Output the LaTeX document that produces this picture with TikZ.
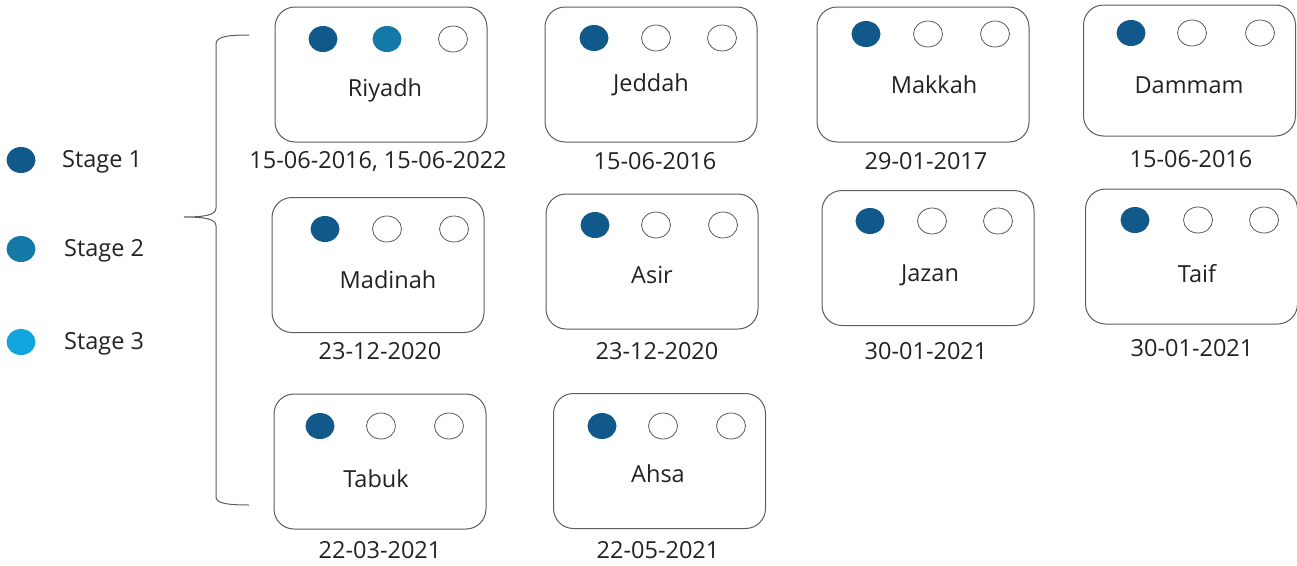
\documentclass[tikz,border=0pt]{standalone}
\usepackage{fontspec}
\setmainfont{Open Sans}
\usetikzlibrary{shapes.geometric}

\definecolor{stageone}{HTML}{11598A}
\definecolor{stagetwo}{HTML}{1479A6}
\definecolor{stagethree}{HTML}{12A5DD}
\definecolor{edgegray}{HTML}{5C5C5C}
\definecolor{inkgray}{HTML}{222222}

\begin{document}
\begin{tikzpicture}[x=1pt, y=-1pt,
    city/.style={draw=edgegray, line width=1pt, rounded corners=20pt, minimum width=212pt, minimum height=135pt, inner sep=0pt},
    dot/.style={ellipse, minimum width=29pt, minimum height=26pt, inner sep=0pt},
    one/.style={dot, fill=stageone},
    two/.style={dot, fill=stagetwo},
    three/.style={dot, fill=stagethree},
    open/.style={dot, draw=edgegray, line width=0.8pt, fill=white},
    txt/.style={font=\fontsize{23.5}{28}\selectfont, text=inkgray, inner sep=0pt}
]
\useasboundingbox (0,0) rectangle (1297,565);

% legend
\node[one] (leg1) at (21,160) {};
\node[two] (leg2) at (21,249) {};
\node[three] (leg3) at (21,342) {};
\node[txt, anchor=west] (legt1) at (62,162) {Stage 1};
\node[txt, anchor=west] (legt2) at (64,251) {Stage 2};
\node[txt, anchor=west] (legt3) at (64,344) {Stage 3};

% brace
\coordinate (bracetop) at (249,35);
\coordinate (bracetip) at (184,217);
\coordinate (bracebot) at (249,505);
\draw[edgegray, line width=1pt] (bracetop) .. controls (226,35) and (216,37) .. (216,44)
    -- (216,208) .. controls (216,215) and (205,217) .. (bracetip)
    .. controls (205,217) and (216,219) .. (216,226)
    -- (216,497) .. controls (216,503) and (226,505) .. (bracebot);

% row 1
\node[city] (riyadh) at (381,74.5) {};
\node[one] (riyadh1) at (323,39) {};
\node[two] (riyadh2) at (387,39) {};
\node[open] (riyadh3) at (453,39) {};
\node[txt] at (385,90) {Riyadh};
\node[txt] (riyadhd) at (378,161) {15-06-2016, 15-06-2022};

\node[city] (jeddah) at (651,74.5) {};
\node[one] (jeddah1) at (594,38) {};
\node[open] (jeddah2) at (656,38) {};
\node[open] (jeddah3) at (722,38) {};
\node[txt] at (651,85) {Jeddah};
\node[txt] (jeddahd) at (655,161) {15-06-2016};

\node[city] (makkah) at (923,74.5) {};
\node[one] (makkah1) at (866,34) {};
\node[open] (makkah2) at (928,34) {};
\node[open] (makkah3) at (995,34) {};
\node[txt] at (934,85) {Makkah};
\node[txt] (makkahd) at (926,161) {29-01-2017};

\node[city, minimum height=131pt] (dammam) at (1189.5,70.5) {};
\node[one] (dammam1) at (1131,33) {};
\node[open] (dammam2) at (1192,33) {};
\node[open] (dammam3) at (1260,33) {};
\node[txt] at (1189,85) {Dammam};
\node[txt] (dammamd) at (1191,159) {15-06-2016};

% row 2
\node[city] (madinah) at (378,265) {};
\node[one] (madinah1) at (325,229) {};
\node[open] (madinah2) at (387,229) {};
\node[open] (madinah3) at (454,229) {};
\node[txt] at (388,280) {Madinah};
\node[txt] (madinahd) at (380,351) {23-12-2020};

\node[city] (asir) at (652,261.5) {};
\node[one] (asir1) at (595,225) {};
\node[open] (asir2) at (656,225) {};
\node[open] (asir3) at (723,225) {};
\node[txt] at (652,275) {Asir};
\node[txt] (asird) at (657,351) {23-12-2020};

\node[city] (jazan) at (928,258) {};
\node[one] (jazan1) at (870,221) {};
\node[open] (jazan2) at (932,221) {};
\node[open] (jazan3) at (998,221) {};
\node[txt] at (930,275) {Jazan};
\node[txt] (jazand) at (926,351) {30-01-2021};

\node[city] (taif) at (1191.5,256.5) {};
\node[one] (taif1) at (1135,220) {};
\node[open] (taif2) at (1198,220) {};
\node[open] (taif3) at (1264,220) {};
\node[txt] at (1197,274) {Taif};
\node[txt] (taifd) at (1192,348) {30-01-2021};

% row 3
\node[city] (tabuk) at (380,461.5) {};
\node[one] (tabuk1) at (320,426) {};
\node[open] (tabuk2) at (381,426) {};
\node[open] (tabuk3) at (449,426) {};
\node[txt] at (376,479) {Tabuk};
\node[txt] (tabukd) at (380,550) {22-03-2021};

\node[city] (ahsa) at (659.5,461) {};
\node[one] (ahsa1) at (602,426) {};
\node[open] (ahsa2) at (663,426) {};
\node[open] (ahsa3) at (731,426) {};
\node[txt] at (658,474) {Ahsa};
\node[txt] (ahsad) at (658,550) {22-05-2021};
\end{tikzpicture}
\end{document}
